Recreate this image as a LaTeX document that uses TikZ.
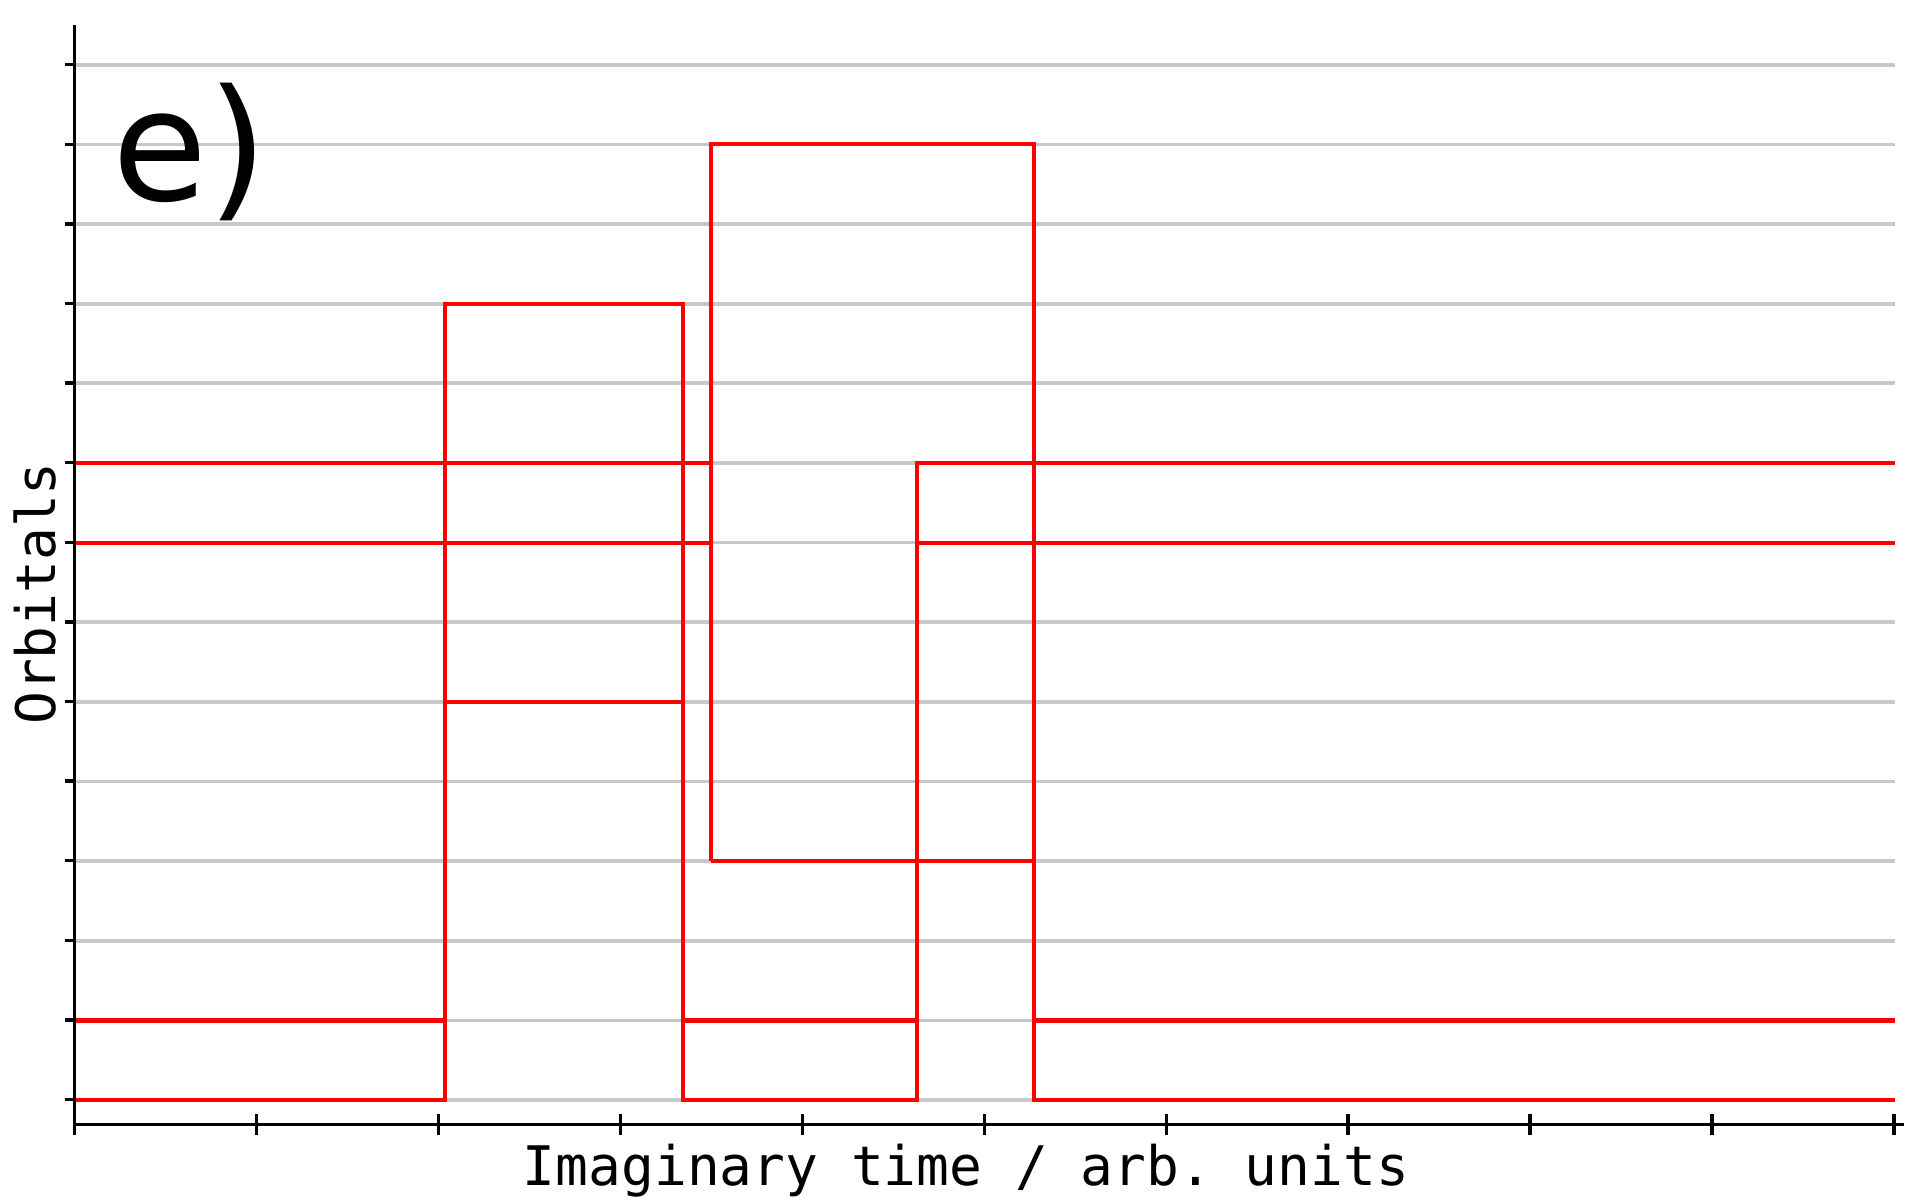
\documentclass[tikz,border=0pt]{standalone}
\usepackage{fontspec}
\newfontfamily\dvsans{DejaVu Sans}
\newfontfamily\dvmono{DejaVu Sans Mono}
\definecolor{gridgray}{HTML}{C8C8C8}
\begin{document}
\begin{tikzpicture}[x=0.01cm,y=-0.01cm,
  gridline/.style={draw=gridgray,line width=1.05pt},
  orb/.style={draw=red,line width=1.14pt},
  axisline/.style={draw=black,line width=1.0pt},
  lbl/.style={inner sep=0pt,font=\dvmono\fontsize{15.5}{18}\selectfont}]
\useasboundingbox[fill=white] (0,0) rectangle (1920,1200);
% grid and orbital occupation lines (time offset in px, level index)
\begin{scope}[shift={(0.747cm,-10.995cm)},x=0.01cm,y=0.796cm]
  \foreach \L in {0,...,13} \draw[gridline] (0,\L) -- (1820.3,\L);
  \def\tA{370}\def\tB{608.3}\def\tC{636.3}\def\tD{842.3}\def\tE{959.3}\def\tR{1819.8}
  \draw[orb] (0,0) -- (\tA,0) -- (\tA,10) -- (\tB,10) -- (\tB,0) -- (\tD,0) -- (\tD,8) -- (\tR,8);
  \draw[orb] (0,1) -- (\tA,1);
  \draw[orb] (\tA,5) -- (\tB,5);
  \draw[orb] (\tB,1) -- (\tD,1);
  \draw[orb] (\tE,1) -- (\tR,1);
  \draw[orb] (0,7) -- (\tC,7);
  \draw[orb] (0,8) -- (\tC,8);
  \draw[orb] (\tC,3) -- (\tC,12) -- (\tE,12) -- (\tE,0) -- (\tR,0);
  \draw[orb] (\tC,3) -- (\tE,3);
  \draw[orb] (\tD,7) -- (\tR,7);
\end{scope}
% axes
\draw[axisline] (74.7,25) -- (74.7,1124.3);
\draw[axisline] (74.7,1124.3) -- (1904,1124.3);
\foreach \k in {0,...,10} \draw[axisline] ({74.7+181.93*\k},1114) -- ({74.7+181.93*\k},1135);
\foreach \L in {0,...,13} \draw[axisline] (64.5,{1099.5-79.6*\L}) -- (74.7,{1099.5-79.6*\L});
% labels
\node[font=\dvsans\fontsize{44}{50}\selectfont,anchor=base west,inner sep=0pt] (panel) at (111.5,200) {e)};
\node[lbl,anchor=base] (xlab) at (966,1185) {Imaginary time / arb.\ units};
\node[lbl,anchor=base,rotate=90] (ylab) at (55,593.5) {Orbitals};
\end{tikzpicture}
\end{document}
